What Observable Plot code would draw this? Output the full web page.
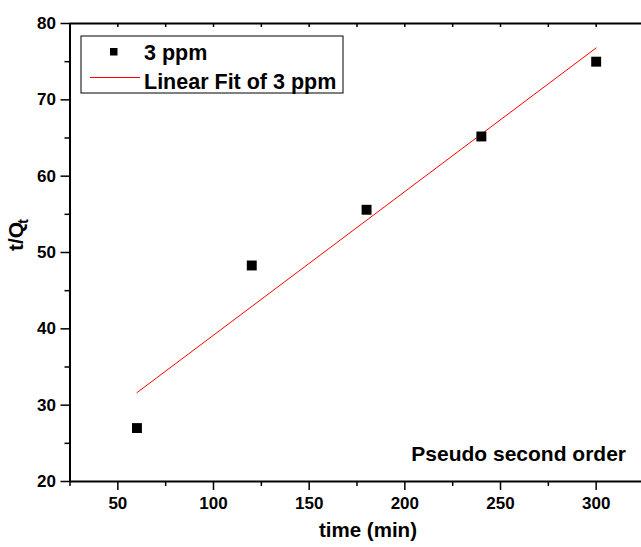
<!DOCTYPE html>
<html>
<head>
<meta charset="utf-8">
<script src="https://cdn.jsdelivr.net/npm/d3@7"></script>
<script src="https://cdn.jsdelivr.net/npm/@observablehq/plot@0.6"></script>
<style>
  html, body { margin: 0; padding: 0; background: #fff; }
  #chart { width: 641px; height: 547px; overflow: hidden; }
</style>
</head>
<body>
<div id="chart"></div>
<script>
const times = [60, 120, 180, 240, 300];
const tQ = [27.0, 48.3, 55.6, 65.2, 75.0];
const xMajorTicks = [50, 100, 150, 200, 250, 300];
const xMinorTicks = [25, 75, 125, 175, 225, 275, 325];
const yMajorTicks = [20, 30, 40, 50, 60, 70, 80];
const yMinorTicks = [25, 35, 45, 55, 65, 75];
const seriesName = "3 ppm";
const fitName = "Linear Fit of 3 ppm";
const annotation = "Pseudo second order";
const xLabel = "time (min)";

const data = times.map((t, i) => ({t, q: tQ[i]}));
const font = "'Liberation Sans', Arial, sans-serif";

const svg = Plot.plot({
  width: 641,
  height: 547,
  marginLeft: 69.5,
  marginRight: -2.5,
  marginTop: 23,
  marginBottom: 66,
  style: {fontFamily: font, fontSize: "17px", fontWeight: "bold", color: "black", background: "white"},
  x: {domain: [25, 325]},
  y: {domain: [20, 80]},
  marks: [
    Plot.axisY({ticks: yMajorTicks, tickSize: 9, tickPadding: 5, label: null, strokeWidth: 1.5, fill: "black"}),
    Plot.axisY({ticks: yMinorTicks, tickSize: 5, text: null, label: null, strokeWidth: 1.5}),
    Plot.axisX({ticks: xMajorTicks, tickSize: 9, tickPadding: 6, label: null, strokeWidth: 1.5, fill: "black"}),
    Plot.axisX({ticks: xMinorTicks, tickSize: 5, text: null, label: null, strokeWidth: 1.5}),
    Plot.axisX({anchor: "top", ticks: xMajorTicks.concat(xMinorTicks), tickSize: -3, text: null, label: null, strokeWidth: 1.5}),
    Plot.ruleX([25], {stroke: "black", strokeWidth: 2}),
    Plot.ruleY([20, 80], {stroke: "black", strokeWidth: 2}),
    Plot.linearRegressionY(data, {x: "t", y: "q", stroke: "#ff0000", strokeWidth: 1, ci: 0}),
    Plot.dot(data, {x: "t", y: "q", symbol: "square", r: 5.6, fill: "black", stroke: null})
  ]
});

document.getElementById("chart").appendChild(svg);

const s = d3.select(svg);
// Legend
const lg = s.append("g").attr("font-family", font).attr("font-weight", "bold").attr("text-anchor", "start");
lg.append("rect").attr("x", 81).attr("y", 36).attr("width", 262).attr("height", 57)
  .attr("fill", "white").attr("stroke", "black").attr("stroke-width", 1);
lg.append("rect").attr("x", 110).attr("y", 48).attr("width", 7.5).attr("height", 7.5).attr("fill", "black");
lg.append("text").attr("x", 144).attr("y", 60).attr("font-size", 21.5).attr("fill", "black").text(seriesName);
lg.append("line").attr("x1", 90).attr("x2", 140).attr("y1", 77.5).attr("y2", 77.5)
  .attr("stroke", "#ff0000").attr("stroke-width", 1);
lg.append("text").attr("x", 144).attr("y", 89).attr("font-size", 21.5).attr("fill", "black").text(fitName);

// Annotation
s.append("text").attr("x", 626).attr("y", 461).attr("text-anchor", "end")
  .attr("font-family", font).attr("font-weight", "bold").attr("font-size", 21).attr("fill", "black")
  .text(annotation);

// X label
s.append("text").attr("x", 368).attr("y", 537).attr("text-anchor", "middle")
  .attr("font-family", font).attr("font-weight", "bold").attr("font-size", 20.5).attr("fill", "black")
  .text(xLabel);

// Y label t/Q_t
const yl = s.append("text").attr("transform", "translate(23,251) rotate(-90)").attr("text-anchor", "start")
  .attr("font-family", font).attr("font-weight", "bold").attr("font-size", 21).attr("fill", "black");
yl.append("tspan").text("t/Q");
yl.append("tspan").attr("font-size", 14).attr("dy", 5).attr("dx", -2).text("t");
</script>
</body>
</html>
